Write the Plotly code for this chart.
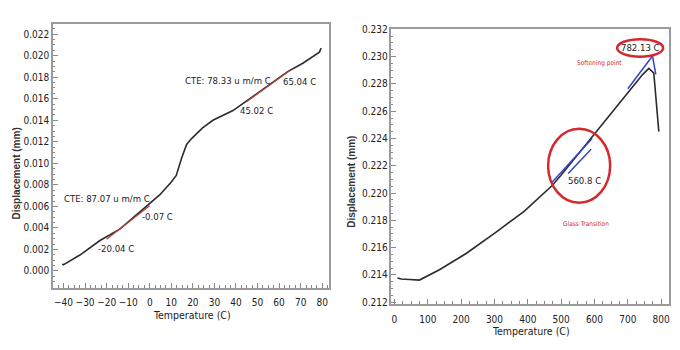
import plotly.graph_objects as go
import numpy as np

# ---- Left panel: CTE curve ----
left_T = [-40.6, -40.1, -32.4, -23.1, -13.9, -1.5, 4.6, 10.0, 12.3, 14.8, 17.1, 19.4, 24.5, 29.3, 38.6, 44.0, 54.0, 64.0, 71.0, 78.7, 79.5]
left_D = [0.00065, 0.00057, 0.00148, 0.00283, 0.00389, 0.0060, 0.00706, 0.00826, 0.00887, 0.0105, 0.01176, 0.0123, 0.0133, 0.0140, 0.0149, 0.01566, 0.0171, 0.01852, 0.0193, 0.02033, 0.0207]
fit1_T = [-20.04, -0.07]
fit1_D = [0.00295, 0.00605]
fit2_T = [45.02, 65.04]
fit2_D = [0.01575, 0.01862]
left_labels = ["CTE: 78.33 u m/m C", "65.04 C", "45.02 C", "CTE: 87.07 u m/m C", "-0.07 C", "-20.04 C"]
left_label_T = [36.2, 69.3, 49.3, -19.9, 3.5, -15.7]
left_label_D = [0.01774, 0.01756, 0.01493, 0.0067, 0.0051, 0.00208]

# ---- Right panel: softening curve ----
right_T = [9, 20, 45, 75, 135, 215, 304, 389, 474, 499, 589, 704, 745, 763, 778, 788, 793]
right_D = [0.21378, 0.21370, 0.21366, 0.21362, 0.21438, 0.21557, 0.21712, 0.21866, 0.22057, 0.22129, 0.2240, 0.22748, 0.2287, 0.22914, 0.22879, 0.22593, 0.2245]
tanA_T = [470, 593]
tanA_D = [0.22071, 0.2240]
tanB_T = [521, 590]
tanB_D = [0.22143, 0.22321]
tanC_T = [700, 774]
tanC_D = [0.22765, 0.23005]
tanD_T = [774, 784]
tanD_D = [0.23005, 0.22870]
glass_label = "560.8 C"
soft_label = "782.13 C"

RED = "#d42a2e"
BLUE = "#3344cc"
CURVE = "#2b2b2b"
FONT = "DejaVu Sans Condensed, Liberation Sans Narrow, Liberation Sans, Arial"

fig = go.Figure()
fig.add_trace(go.Scatter(x=left_T, y=left_D, mode="lines", line=dict(color=CURVE, width=1.6), xaxis="x", yaxis="y", showlegend=False))
fig.add_trace(go.Scatter(x=fit1_T, y=fit1_D, mode="lines", line=dict(color="#b8453c", width=1.3), xaxis="x", yaxis="y", showlegend=False))
fig.add_trace(go.Scatter(x=fit2_T, y=fit2_D, mode="lines", line=dict(color="#b8453c", width=1.3), xaxis="x", yaxis="y", showlegend=False))

fig.add_trace(go.Scatter(x=right_T, y=right_D, mode="lines", line=dict(color=CURVE, width=1.6), xaxis="x2", yaxis="y2", showlegend=False))
for tx, ty in [(tanA_T, tanA_D), (tanB_T, tanB_D), (tanC_T, tanC_D), (tanD_T, tanD_D)]:
    fig.add_trace(go.Scatter(x=tx, y=ty, mode="lines", line=dict(color=BLUE, width=1.5), xaxis="x2", yaxis="y2", showlegend=False))

axis_common = dict(showgrid=False, zeroline=False, showline=True, linecolor="#9a9a9a", linewidth=1.5,
                   mirror=True, ticks="inside", ticklen=5, tickcolor="#888", tickwidth=1, tickangle=0,
                   tickfont=dict(family=FONT, size=10, color="#222"))

fig.update_layout(
    width=680, height=350, margin=dict(l=0, r=0, t=0, b=0),
    paper_bgcolor="white", plot_bgcolor="white",
    xaxis=dict(domain=[0.078, 0.485], range=[-44.9, 83.3], dtick=10, tick0=0, anchor="y", ticklabelstandoff=5,
               minor=dict(dtick=2.5, ticks="inside", ticklen=3, tickcolor="#888"), **axis_common),
    yaxis=dict(domain=[0.1714, 0.9429], range=[-0.00154, 0.0229], dtick=0.002, tick0=0, tickformat=".3f", anchor="x",
               minor=dict(dtick=0.0005, ticks="inside", ticklen=2, tickcolor="#888"), **axis_common),
    xaxis2=dict(domain=[0.5765, 0.985], range=[-9, 823], dtick=100, tick0=0, anchor="y2", ticklabelstandoff=5,
                minor=dict(dtick=25, ticks="inside", ticklen=3, tickcolor="#888"), **axis_common),
    yaxis2=dict(domain=[0.1229, 0.9286], range=[0.21186, 0.232], dtick=0.002, tick0=0.212, tickformat=".3f", anchor="x2",
                minor=dict(dtick=0.0005, ticks="inside", ticklen=2, tickcolor="#888"), **axis_common),
)

annotations = []
for t, x, y in zip(left_labels, left_label_T, left_label_D):
    annotations.append(dict(text=t, x=x, y=y, xref="x", yref="y", showarrow=False,
                            font=dict(family=FONT, size=9.5, color="#222")))
annotations += [
    dict(text=glass_label, x=569, y=0.2209, xref="x2", yref="y2", showarrow=False, font=dict(family=FONT, size=9.5, color="#222")),
    dict(text=soft_label, x=737, y=0.23064, xref="x2", yref="y2", showarrow=False, font=dict(family=FONT, size=9.5, color="#222")),
    dict(text="Glass Transition", x=575, y=0.2177, xref="x2", yref="y2", showarrow=False, font=dict(family=FONT, size=6.5, color=RED)),
    dict(text="Softening point", x=614, y=0.2295, xref="x2", yref="y2", showarrow=False, font=dict(family=FONT, size=6.5, color=RED)),
    dict(text="<b>Displacement (mm)</b>", x=17 / 680, y=1 - 173 / 350, xref="paper", yref="paper", textangle=-90, showarrow=False,
         xanchor="center", yanchor="middle", font=dict(family="Liberation Sans, Arial", size=10, color="#333")),
    dict(text="<b>Displacement (mm)</b>", x=352 / 680, y=1 - 181 / 350, xref="paper", yref="paper", textangle=-90, showarrow=False,
         xanchor="center", yanchor="middle", font=dict(family="Liberation Sans, Arial", size=10, color="#333")),
    dict(text="Temperature (C)", x=192 / 680, y=1 - 318 / 350, xref="paper", yref="paper", showarrow=False,
         xanchor="center", yanchor="middle", font=dict(family=FONT, size=10.5, color="#222")),
    dict(text="Temperature (C)", x=532 / 680, y=1 - 335 / 350, xref="paper", yref="paper", showarrow=False,
         xanchor="center", yanchor="middle", font=dict(family=FONT, size=10.5, color="#222")),
]
fig.update_layout(annotations=annotations)

fig.add_shape(type="circle", xref="x2", yref="y2", x0=461, x1=647, y0=0.21929, y1=0.22471,
              line=dict(color=RED, width=2.5))
fig.add_shape(type="circle", xref="x2", yref="y2", x0=668, x1=806, y0=0.23000, y1=0.23128,
              line=dict(color=RED, width=2.5))

fig.write_html("out.html")
